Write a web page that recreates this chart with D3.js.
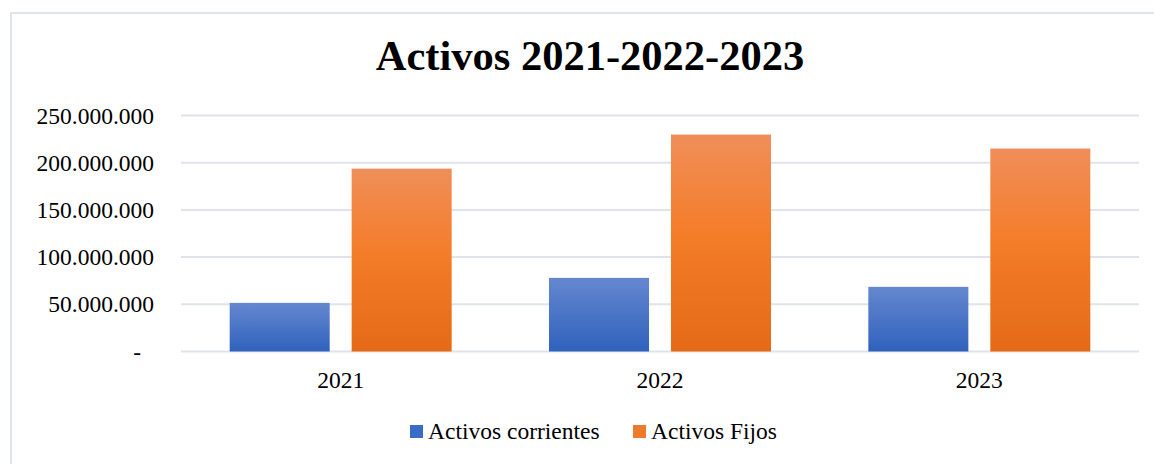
<!DOCTYPE html>
<html>
<head>
<meta charset="utf-8">
<script src="https://cdn.jsdelivr.net/npm/d3@7"></script>
<style>
  body { margin: 0; background: #fff; }
  text { font-family: "Liberation Serif", "Times New Roman", serif; fill: #000; }
</style>
</head>
<body>
<svg id="chart" width="1154" height="464"></svg>
<script>
// data
var years = ["2021", "2022", "2023"];
var corrientes = [51500000, 78000000, 68500000];
var fijos = [193700000, 229800000, 215000000];
var seriesNames = ["Activos corrientes", "Activos Fijos"];
var yTicks = [0, 50000000, 100000000, 150000000, 200000000, 250000000];

var svg = d3.select("#chart");

// gradients like the office chart fill
var defs = svg.append("defs");
var blue = defs.append("linearGradient").attr("id", "gBlue")
  .attr("x1", 0).attr("y1", 0).attr("x2", 0).attr("y2", 1);
blue.append("stop").attr("offset", "0%").attr("stop-color", "#6587cf");
blue.append("stop").attr("offset", "100%").attr("stop-color", "#2f62bd");
var orange = defs.append("linearGradient").attr("id", "gOrange")
  .attr("x1", 0).attr("y1", 0).attr("x2", 0).attr("y2", 1);
orange.append("stop").attr("offset", "0%").attr("stop-color", "#f08e59");
orange.append("stop").attr("offset", "45%").attr("stop-color", "#f47d2a");
orange.append("stop").attr("offset", "100%").attr("stop-color", "#e46a17");
var fills = ["url(#gBlue)", "url(#gOrange)"];
var legendColors = ["#3a6cc5", "#ef7a2c"];

// chart border
svg.append("rect")
  .attr("x", 11).attr("y", 13)
  .attr("width", 1160).attr("height", 470)
  .attr("fill", "none")
  .attr("stroke", "#dfe3ea")
  .attr("stroke-width", 2);

// title
svg.append("text")
  .attr("x", 590).attr("y", 70)
  .attr("text-anchor", "middle")
  .style("font-size", "42.5px")
  .style("font-weight", "bold")
  .text("Activos 2021-2022-2023");

var plotLeft = 181, plotRight = 1139, plotTop = 115.5, plotBottom = 351.5;

var y = d3.scaleLinear().domain([0, 250000000]).range([plotBottom, plotTop]);
var x = d3.scaleBand().domain(years).range([plotLeft, plotRight]).padding(0);
var inner = d3.scaleBand().domain(seriesNames).range([0, 222]).paddingInner(0.18);

function fmt(v) {
  if (v === 0) return "-";
  return d3.format(",")(v).replace(/,/g, ".");
}

// gridlines
svg.append("g")
  .selectAll("line")
  .data(yTicks)
  .enter().append("line")
  .attr("x1", plotLeft).attr("x2", plotRight)
  .attr("y1", function(d) { return y(d); })
  .attr("y2", function(d) { return y(d); })
  .attr("stroke", "#dfe3ea")
  .attr("stroke-width", 2);

// y labels
svg.append("g")
  .selectAll("text")
  .data(yTicks)
  .enter().append("text")
  .attr("x", function(d) { return d === 0 ? 141 : 154; })
  .attr("y", function(d) { return y(d) + 8; })
  .attr("text-anchor", "end")
  .style("font-size", "23.5px")
  .text(fmt);

// bars
var rows = years.map(function(yr, i) {
  return { year: yr, values: [corrientes[i], fijos[i]] };
});

var groups = svg.selectAll(".year")
  .data(rows)
  .enter().append("g")
  .attr("class", "year")
  .attr("transform", function(d) {
    return "translate(" + (x(d.year) + (x.bandwidth() - 222) / 2) + ",0)";
  });

groups.selectAll("rect")
  .data(function(d) { return d.values.map(function(v, j) { return { name: seriesNames[j], v: v, j: j }; }); })
  .enter().append("rect")
  .attr("x", function(d) { return inner(d.name); })
  .attr("width", inner.bandwidth())
  .attr("y", function(d) { return y(d.v); })
  .attr("height", function(d) { return plotBottom - y(d.v); })
  .attr("fill", function(d) { return fills[d.j]; });

// category labels
svg.append("g")
  .selectAll("text")
  .data(years)
  .enter().append("text")
  .attr("x", function(d) { return x(d) + x.bandwidth() / 2; })
  .attr("y", 388)
  .attr("text-anchor", "middle")
  .style("font-size", "23.5px")
  .text(function(d) { return d; });

// legend
var legendX = [410, 633];
var legend = svg.append("g")
  .selectAll("g")
  .data(seriesNames)
  .enter().append("g")
  .attr("transform", function(d, i) { return "translate(" + legendX[i] + ",425)"; });
legend.append("rect")
  .attr("width", 13).attr("height", 13)
  .attr("fill", function(d, i) { return legendColors[i]; });
legend.append("text")
  .attr("x", 18).attr("y", 14)
  .style("font-size", "23.5px")
  .text(function(d) { return d; });
</script>
</body>
</html>
